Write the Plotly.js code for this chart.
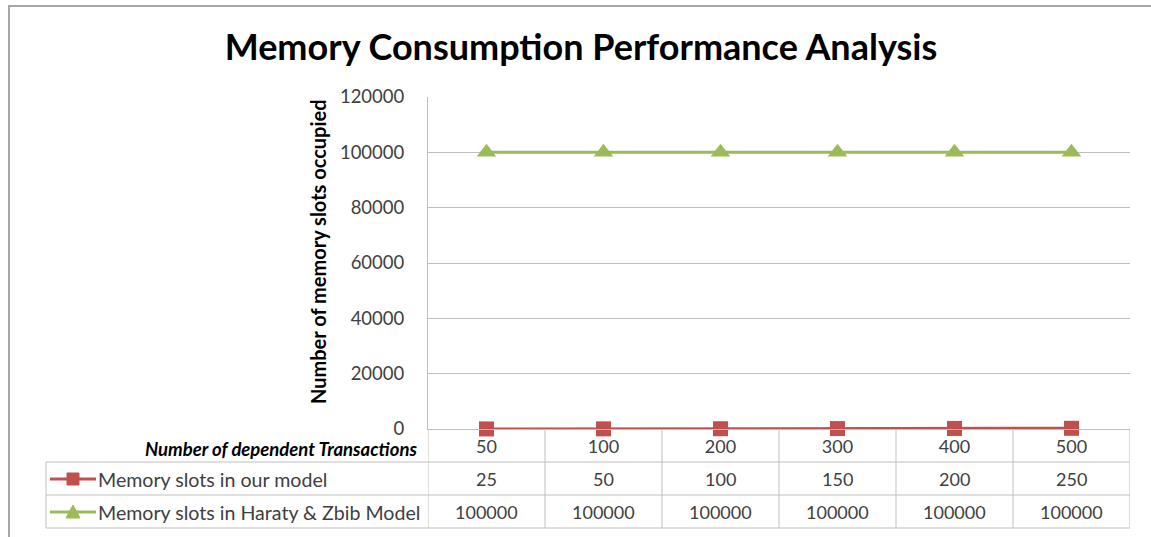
<!DOCTYPE html>
<html>
<head>
<meta charset="utf-8">
<script src="https://cdn.plot.ly/plotly-3.0.1.min.js"></script>
<style>html,body{margin:0;padding:0;background:#fff;}#chart{width:1151px;height:537px;}</style>
</head>
<body>
<div id="chart"></div>
<script>
// ---- data ----
const categories = ["50", "100", "200", "300", "400", "500"];
const ourModel = [25, 50, 100, 150, 200, 250];
const haratyZbib = [100000, 100000, 100000, 100000, 100000, 100000];
const seriesNames = ["Memory slots in our model", "Memory slots in Haraty & Zbib Model"];
const xAxisTitle = "Number of dependent Transactions";
const yAxisTitle = "Number of memory slots occupied";
const chartTitle = "Memory Consumption Performance Analysis";
const yTicks = [0, 20000, 40000, 60000, 80000, 100000, 120000];

// ---- layout helpers ----
const W = 1151, H = 537;
const M = {l: 428, r: 21, t: 97, b: 108};
const PW = W - M.l - M.r, PH = H - M.t - M.b;
const px = x => (x - M.l) / PW;          // pixel x -> paper
const py = y => (M.t + PH - y) / PH;     // pixel y -> paper
const FONT = "Lato, 'Open Sans', sans-serif";
const RED = "#C0504D", GREEN = "#9BBB59", GRID = "#BFBFBF", TXT = "#404040";

const rowLines = [462, 495, 528];
const rowCenters = [446, 479, 512];

const traces = [
  {x: categories, y: ourModel, name: seriesNames[0], type: "scatter", mode: "lines+markers",
   line: {color: RED, width: 3}, marker: {symbol: "square", size: 15, color: RED}, cliponaxis: false},
  {x: categories, y: haratyZbib, name: seriesNames[1], type: "scatter", mode: "lines+markers",
   line: {color: GREEN, width: 3}, marker: {symbol: "triangle-up", size: 17, color: GREEN}, cliponaxis: false}
];

const shapes = [];
const annotations = [];
// outer frame
shapes.push({type: "rect", xref: "paper", yref: "paper", x0: px(9), x1: px(1170), y0: py(6), y1: py(560),
  line: {color: "#A6A6A6", width: 2}, layer: "below"});
// table vertical lines at category boundaries
for (let i = 0; i <= categories.length; i++) {
  shapes.push({type: "line", xref: "x", yref: "paper", x0: i - 0.5, x1: i - 0.5, y0: py(429), y1: py(rowLines[2]),
    line: {color: GRID, width: 1}});
}
// left legend column box
shapes.push({type: "line", xref: "paper", yref: "paper", x0: px(46), x1: px(46), y0: py(rowLines[0]), y1: py(rowLines[2]),
  line: {color: GRID, width: 1}});
// horizontal table lines
rowLines.forEach(r => shapes.push({type: "line", xref: "paper", yref: "paper", x0: px(46), x1: 1, y0: py(r), y1: py(r),
  line: {color: GRID, width: 1}}));
// legend keys
const keyColors = [RED, GREEN];
[0, 1].forEach(k => {
  const yc = rowCenters[k + 1];
  shapes.push({type: "line", xref: "paper", yref: "paper", x0: px(50), x1: px(96), y0: py(yc), y1: py(yc),
    line: {color: keyColors[k], width: 3}});
});
// square key
shapes.push({type: "rect", xref: "paper", yref: "paper", x0: px(67), x1: px(79), y0: py(rowCenters[1] - 6), y1: py(rowCenters[1] + 6),
  fillcolor: RED, line: {color: RED, width: 1}});
// triangle key
{
  const yc = rowCenters[2];
  shapes.push({type: "path", xref: "paper", yref: "paper",
    path: `M ${px(66)} ${py(yc + 6)} L ${px(80)} ${py(yc + 6)} L ${px(73)} ${py(yc - 7)} Z`,
    fillcolor: GREEN, line: {color: GREEN, width: 1}});
}
// x-axis title (header row)
annotations.push({text: "<b><i>" + xAxisTitle + "</i></b>", xref: "paper", yref: "paper", x: px(419), y: py(449),
  xanchor: "right", yanchor: "middle", showarrow: false, font: {family: FONT, size: 18.5, color: "#000"}});
// y-axis title
annotations.push({text: "<b>" + yAxisTitle + "</b>", xref: "paper", yref: "paper", x: px(318), y: py(252),
  xanchor: "center", yanchor: "middle", textangle: -90, showarrow: false, font: {family: FONT, size: 20, color: "#000"}});
// legend labels
seriesNames.forEach((n, k) => annotations.push({text: n, xref: "paper", yref: "paper", x: px(96), y: py(rowCenters[k + 1]),
  xanchor: "left", yanchor: "middle", showarrow: false, font: {family: FONT, size: 19.6, color: TXT}}));
// table values (x given as category index)
[ourModel, haratyZbib].forEach((arr, k) => arr.forEach((v, i) => annotations.push({
  text: String(v), xref: "x", yref: "paper", x: i, y: py(rowCenters[k + 1]),
  xanchor: "center", yanchor: "middle", showarrow: false, font: {family: FONT, size: 18, color: TXT}})));

const layout = {
  width: W, height: H,
  margin: {l: M.l, r: M.r, t: M.t, b: M.b, pad: 0},
  paper_bgcolor: "#fff", plot_bgcolor: "#fff",
  showlegend: false,
  title: {text: "<b>" + chartTitle + "</b>", x: 581 / W, xanchor: "center", y: 1 - 47 / H, yanchor: "middle",
    font: {family: FONT, size: 36, color: "#000"}},
  xaxis: {type: "category", categoryorder: "array", categoryarray: categories, range: [-0.5, categories.length - 0.5],
    showgrid: false, showline: true, linecolor: GRID, linewidth: 1, ticks: "", zeroline: false,
    tickfont: {family: FONT, size: 18, color: TXT}, ticklabelstandoff: 1},
  yaxis: {range: [0, 120000], tickvals: yTicks, ticktext: yTicks.map(String), showgrid: true, gridcolor: GRID, gridwidth: 1,
    showline: true, linecolor: GRID, linewidth: 1, zeroline: false, ticks: "",
    tickfont: {family: FONT, size: 18.5, color: TXT}, ticklabelstandoff: 19},
  shapes: shapes,
  annotations: annotations
};

Plotly.newPlot("chart", traces, layout, {displayModeBar: false, staticPlot: true});
</script>
</body>
</html>
